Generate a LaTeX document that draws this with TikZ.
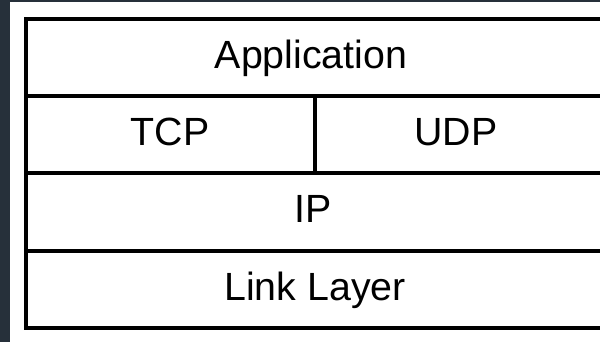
\documentclass[tikz,border=0pt]{standalone}
\usepackage{fontspec}
\setmainfont{Liberation Sans}
\definecolor{sidebar}{HTML}{26303A}
\begin{document}
\begin{tikzpicture}[x=0.75pt,y=-0.75pt]
\useasboundingbox (0,0) rectangle (600,342);
\clip (0,0) rectangle (600,342);
% Background
\fill[white] (0,0) rectangle (600,342);
\fill[sidebar] (0,0) rectangle (10,342);
\fill[sidebar] (0,0) rectangle (600,2);

% Layer grid
\draw[line width=3pt] (25.5,19) rectangle (620,328);
\foreach \y in {96,173,251} {
  \draw[line width=3pt] (25.5,\y) -- (620,\y);
}
\draw[line width=3pt] (314.5,96) -- (314.5,173);

% Layer names
\foreach \name/\x/\y/\label in {
  app/311/68.5/Application,
  tcp/170/145.5/TCP,
  udp/456/145.5/UDP,
  ip/313/223/IP,
  link/315/300/Link Layer
} {
  \node[anchor=base,inner sep=0pt,font=\fontsize{29.5}{31}\selectfont] (\name) at (\x,\y) {\label};
}
\end{tikzpicture}
\end{document}
